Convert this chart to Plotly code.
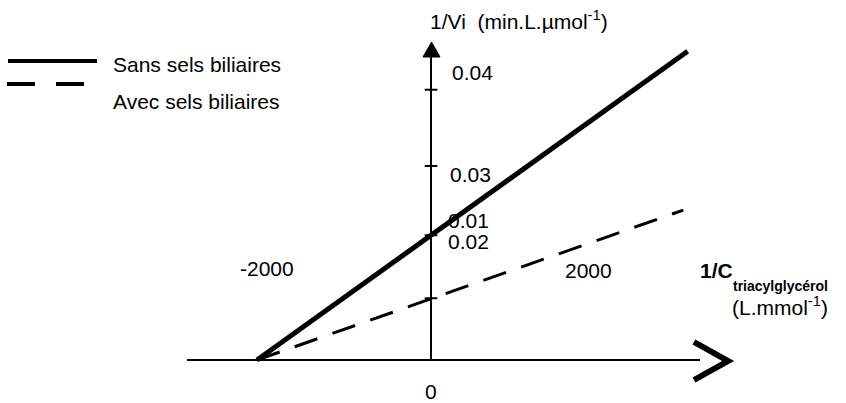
import plotly.graph_objects as go

# ---- data ----
series_names = ["Sans sels biliaires", "Avec sels biliaires"]
solid_x = [-2000, 2950]
solid_y = [0.0, 0.049]
dashed_x = [-2000, 2900]
dashed_y = [0.0, 0.0238]
ytick_vals = [0.0098, 0.0198, 0.0308, 0.0429]
ytick_labels = ["0.01", "0.02", "0.03", "0.04"]
xtick_labels = ["-2000", "0", "2000"]

W, H = 846, 403
X0PX, Y0PX = 431, 360          # pixel position of origin
SX = 0.087                      # px per x unit
SY = 6300.0                     # px per y unit
XR = [-X0PX / SX, (W - X0PX) / SX]
YR = [-(H - Y0PX) / SY, Y0PX / SY]


def dx(px):
    return (px - X0PX) / SX


def dy(py):
    return (Y0PX - py) / SY


FONT = "Arial, Liberation Sans, sans-serif"
BLACK = "#000000"

fig = go.Figure()

# main lines
fig.add_trace(go.Scatter(x=solid_x, y=solid_y, mode="lines",
                         line=dict(color=BLACK, width=5), name=series_names[0],
                         showlegend=False, hoverinfo="skip"))
fig.add_trace(go.Scatter(x=dashed_x, y=dashed_y, mode="lines",
                         line=dict(color=BLACK, width=3, dash="24px,16px"),
                         name=series_names[1], showlegend=False, hoverinfo="skip"))

# y ticks
fig.add_trace(go.Scatter(x=[0] * len(ytick_vals), y=ytick_vals, mode="markers",
                         marker=dict(symbol="line-ew", size=9,
                                     line=dict(color=BLACK, width=2)),
                         showlegend=False, hoverinfo="skip"))

# legend samples
fig.add_trace(go.Scatter(x=[dx(8), dx(97)], y=[dy(61), dy(61)], mode="lines",
                         line=dict(color=BLACK, width=4), showlegend=False,
                         hoverinfo="skip"))
fig.add_trace(go.Scatter(x=[dx(7), dx(84)], y=[dy(84), dy(84)], mode="lines",
                         line=dict(color=BLACK, width=4, dash="28px,21px"),
                         showlegend=False, hoverinfo="skip"))

shapes = []
# horizontal axis
shapes.append(dict(type="line", x0=dx(187), x1=dx(700), y0=0, y1=0,
                   line=dict(color=BLACK, width=2)))
# vertical axis
shapes.append(dict(type="line", x0=0, x1=0, y0=0, y1=dy(56),
                   line=dict(color=BLACK, width=2)))
# up arrow head
shapes.append(dict(type="path",
                   path=f"M {dx(423)},{dy(57)} L {dx(440)},{dy(57)} L {dx(431.5)},{dy(42)} Z",
                   fillcolor=BLACK, line=dict(color=BLACK, width=1)))
# chevron at right
shapes.append(dict(type="path",
                   path=f"M {dx(694)},{dy(342)} L {dx(728)},{dy(361)} L {dx(694)},{dy(380)}",
                   line=dict(color=BLACK, width=6)))
for s in shapes:
    s.update(xref="x", yref="y", layer="above")

annotations = []


def add_text(text, px, py, size=21, anchor="left"):
    annotations.append(dict(text=text, x=dx(px), y=dy(py), xref="x", yref="y",
                            showarrow=False, xanchor=anchor, yanchor="middle",
                            borderpad=0,
                            font=dict(family=FONT, size=size, color=BLACK)))


add_text(series_names[0], 112, 64)
add_text(series_names[1], 112, 101)
add_text("1/Vi  (min.L.µmol<sup>-1</sup>)", 429, 20)
add_text(ytick_labels[3], 451, 72)
add_text(ytick_labels[2], 449, 174)
add_text(ytick_labels[0], 447, 220)
add_text(ytick_labels[1], 447, 241)
add_text(xtick_labels[0], 239, 268)
add_text(xtick_labels[2], 564, 270)
add_text(xtick_labels[1], 431, 391, anchor="center")
add_text("<b>1/C</b>", 699, 270)
add_text("<b>triacylglycérol</b>", 732, 286, size=14)
add_text("(L.mmol<sup>-1</sup>)", 731, 306)

fig.update_layout(
    width=W, height=H,
    margin=dict(l=0, r=0, t=0, b=0),
    paper_bgcolor="white", plot_bgcolor="white",
    xaxis=dict(range=XR, visible=False, fixedrange=True),
    yaxis=dict(range=YR, visible=False, fixedrange=True),
    shapes=shapes, annotations=annotations,
    showlegend=False,
)

fig.write_html("out.html")
